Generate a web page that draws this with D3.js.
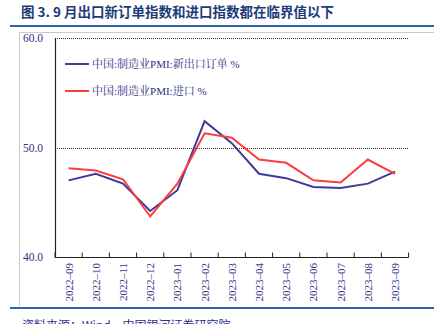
<!DOCTYPE html>
<html><head><meta charset="utf-8">
<script src="https://cdn.jsdelivr.net/npm/d3@7"></script>
<style>body{margin:0;background:#fff;}svg{display:block;}</style>
</head><body>
<script>
const months = ["2022-09","2022-10","2022-11","2022-12","2023-01","2023-02","2023-03","2023-04","2023-05","2023-06","2023-07","2023-08","2023-09"];
const newExportOrders = [47.0,47.6,46.7,44.2,46.1,52.4,50.4,47.6,47.2,46.4,46.3,46.7,47.8];
const imports = [48.1,47.9,47.1,43.7,46.7,51.3,50.9,48.9,48.6,47.0,46.8,48.9,47.6];
const yTicks = [40,50,60];
const seriesNames = ["中国:制造业PMI:新出口订单 %","中国:制造业PMI:进口 %"];
const seriesColors = ["#3d3a9a","#ff3b3b"];

const W=434,H=324;
const svg=d3.select("body").append("svg").attr("width",W).attr("height",H);
const txtColor="#2b2f86";
const serif="'Liberation Serif','Times New Roman','Noto Serif CJK SC','Noto Sans CJK SC',serif";

// title
svg.append("text").attr("x",21).attr("y",17).attr("font-family","'Noto Sans CJK SC',sans-serif")
  .attr("font-weight","bold").attr("font-size",13.5).attr("fill","#1c3b78")
  .text("图 3. 9 月出口新订单指数和进口指数都在临界值以下");
svg.append("line").attr("x1",10).attr("x2",W).attr("y1",26).attr("y2",26).attr("stroke","#2f62ad").attr("stroke-width",2);
// frame
svg.append("line").attr("x1",20).attr("x2",W).attr("y1",32.5).attr("y2",32.5).attr("stroke","#c8c8c8");
svg.append("line").attr("x1",19.5).attr("x2",19.5).attr("y1",32).attr("y2",306).attr("stroke","#c8c8c8");
svg.append("line").attr("x1",10).attr("x2",W).attr("y1",308).attr("y2",308).attr("stroke","#2f62ad").attr("stroke-width",2);
// source
svg.append("text").attr("x",22).attr("y",330).attr("font-family","'Noto Sans CJK SC',sans-serif")
  .attr("font-size",12).attr("fill",txtColor).text("资料来源：Wind，中国银河证券研究院");

const x=d3.scaleBand().domain(months).range([55,408.6]);
const y=d3.scaleLinear().domain([40,60]).range([257,38]);

// gridlines
svg.selectAll("line.grid").data([50,60]).enter().append("line")
  .attr("x1",55).attr("x2",409).attr("y1",d=>Math.round(y(d))+0.5).attr("y2",d=>Math.round(y(d))+0.5)
  .attr("stroke","#333").attr("stroke-dasharray","1,1").attr("stroke-width",1);

// y axis labels
svg.selectAll("text.yl").data(yTicks).enter().append("text")
  .attr("x",43).attr("y",d=>y(d)+4).attr("text-anchor","end")
  .attr("font-family",serif).attr("font-size",11.5).attr("fill",txtColor)
  .text(d=>d.toFixed(1));

// axes
const gx=svg.append("g").attr("transform","translate(0,257.5)");
const tickPos=[x.range()[0]].concat(months.map(m=>x(m)+x.bandwidth()));
gx.selectAll("line.t").data(tickPos).enter().append("line")
  .attr("x1",d=>d).attr("x2",d=>d).attr("y1",0).attr("y2",-5).attr("stroke","#222");
svg.append("line").attr("x1",55).attr("x2",408.6).attr("y1",257.5).attr("y2",257.5).attr("stroke","#222").attr("stroke-width",1.2);
svg.append("line").attr("x1",55.5).attr("x2",55.5).attr("y1",38).attr("y2",258).attr("stroke","#222").attr("stroke-width",1.2);

// x labels
svg.selectAll("text.xl").data(months).enter().append("text")
  .attr("transform",d=>`translate(${x(d)+x.bandwidth()/2+4},263) rotate(-90)`)
  .attr("text-anchor","end").attr("font-family",serif).attr("font-size",11).attr("fill",txtColor)
  .text(d=>d.replace("-","–"));

// lines
const line=d3.line().x((d,i)=>x(months[i])+x.bandwidth()/2).y(d=>y(d));
[newExportOrders,imports].forEach((s,k)=>{
  svg.append("path").datum(s).attr("d",line).attr("fill","none")
    .attr("stroke",seriesColors[k]).attr("stroke-width",2).attr("stroke-linejoin","miter");
});

// legend
seriesNames.forEach((n,k)=>{
  const ly=[64,91][k];
  svg.append("line").attr("x1",65).attr("x2",89).attr("y1",ly).attr("y2",ly).attr("stroke",seriesColors[k]).attr("stroke-width",2);
  svg.append("text").attr("x",92).attr("y",ly+4).attr("font-family",serif).attr("font-size",11).attr("fill",txtColor).text(n);
});
</script>
</body></html>
